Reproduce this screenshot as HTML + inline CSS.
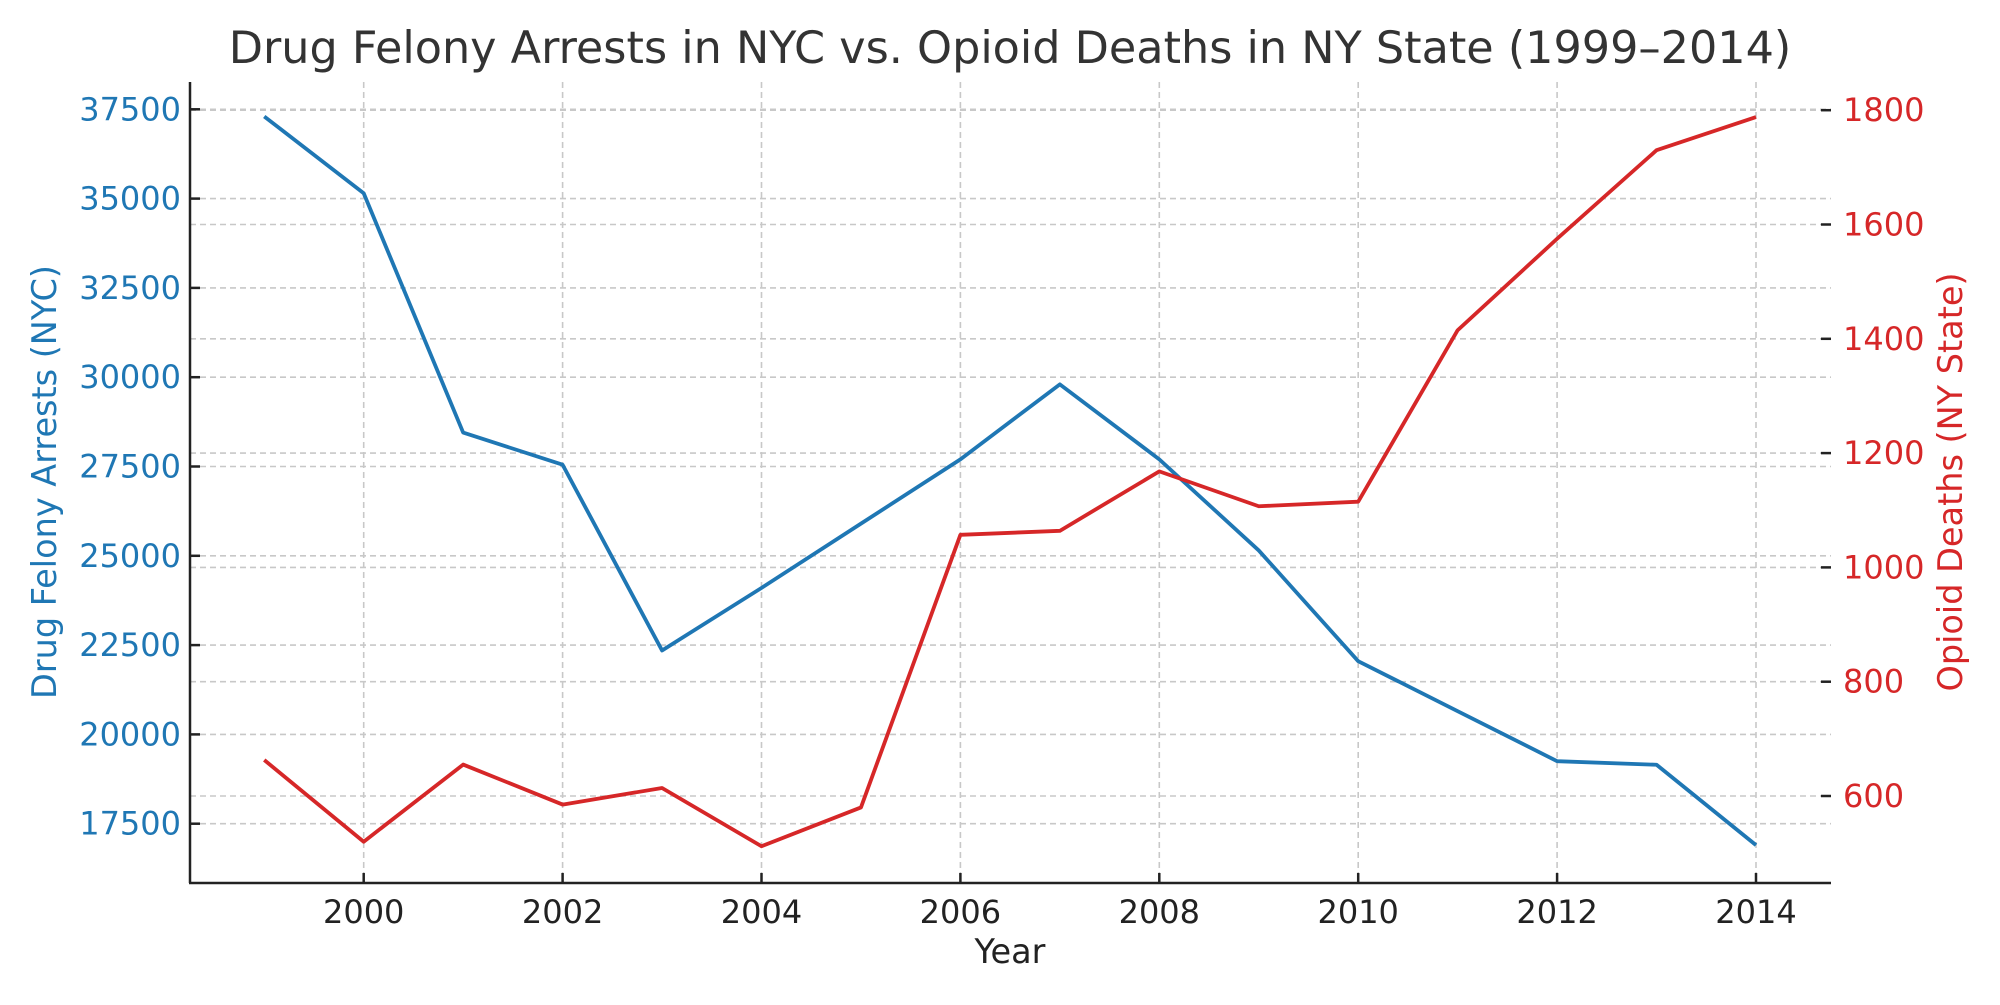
<!DOCTYPE html>
<html><head><meta charset="utf-8"><style>body{margin:0;background:#fff}svg text{font-family:"DejaVu Sans","Liberation Sans",sans-serif}</style></head>
<body>
<svg id="chart" width="2000" height="1000" viewBox="0 0 2000 1000" xmlns="http://www.w3.org/2000/svg">
<rect width="2000" height="1000" fill="#fff"/>
<g id="grid"></g><g id="lines"></g><g id="axes"></g>
<text x="1010" y="63" font-size="44.5" text-anchor="middle" fill="#333">Drug Felony Arrests in NYC vs. Opioid Deaths in NY State (1999–2014)</text>
<text x="1010" y="963" font-size="33.5" text-anchor="middle" fill="#222">Year</text>
<text transform="translate(56,482) rotate(-90)" font-size="33.5" text-anchor="middle" fill="#1f77b4">Drug Felony Arrests (NYC)</text>
<text transform="translate(1962,482) rotate(-90)" font-size="33.5" text-anchor="middle" fill="#d62728">Opioid Deaths (NY State)</text>
</svg>
<script>
const years=[1999,2000,2001,2002,2003,2004,2005,2006,2007,2008,2009,2010,2011,2012,2013,2014];
const arrests=[37300,35150,28450,27550,22350,24100,25900,27700,29800,27700,25150,22050,20650,19250,19150,16900];
const deaths=[663,520,655,585,614,512,580,1057,1064,1168,1107,1115,1415,1575,1730,1788];
const xTicks=[2000,2002,2004,2006,2008,2010,2012,2014];
const yLeftTicks=[17500,20000,22500,25000,27500,30000,32500,35000,37500];
const yRightTicks=[600,800,1000,1200,1400,1600,1800];
const NS='http://www.w3.org/2000/svg';
const L=190,R=1831,T=82,B=883;
const x=v=>363.7+(v-2000)*99.45;
const yl=v=>823.7-(v-17500)/2500*89.3;
const yr=v=>796-(v-600)/200*114.3;
function mk(tag,attrs,parent,txt){const e=document.createElementNS(NS,tag);for(const k in attrs)e.setAttribute(k,attrs[k]);if(txt!==undefined)e.textContent=txt;document.getElementById(parent).appendChild(e);return e;}
const gd={stroke:'#c8c8c8','stroke-width':1.6,'stroke-dasharray':'6,4'};
xTicks.forEach(t=>{const g=mk('line',Object.assign({x1:x(t),x2:x(t),y1:T,y2:B},gd),'grid');


const tk=mk('line',{x1:x(t),x2:x(t),y1:B,y2:B-10,stroke:'#222','stroke-width':2.5},'axes');


const lb=mk('text',{x:x(t),y:B+40,'font-size':32,'text-anchor':'middle',fill:'#222'},'axes',t);

});
yLeftTicks.forEach(t=>{const g=mk('line',Object.assign({x1:L,x2:R,y1:yl(t),y2:yl(t)},gd),'grid');


const tk=mk('line',{x1:L,x2:L+10,y1:yl(t),y2:yl(t),stroke:'#222','stroke-width':2.5},'axes');


const lb=mk('text',{x:181,y:yl(t)+11,'font-size':32,'text-anchor':'end',fill:'#1f77b4'},'axes',t);

});
yRightTicks.forEach(t=>{const g=mk('line',Object.assign({x1:L,x2:R,y1:yr(t),y2:yr(t)},gd),'grid');


const tk=mk('line',{x1:R-10,x2:R,y1:yr(t),y2:yr(t),stroke:'#222','stroke-width':2.5},'axes');


const lb=mk('text',{x:1843,y:yr(t)+11,'font-size':32,'text-anchor':'start',fill:'#d62728'},'axes',t);

});
const a1=mk('polyline',{points:years.map((y,i)=>x(y)+','+yl(arrests[i])).join(' '),fill:'none',stroke:'#1f77b4','stroke-width':3.8,'stroke-linejoin':'round'},'lines');


const a2=mk('polyline',{points:years.map((y,i)=>x(y)+','+yr(deaths[i])).join(' '),fill:'none',stroke:'#d62728','stroke-width':3.8,'stroke-linejoin':'round'},'lines');


const ax1=mk('line',{x1:L,x2:L,y1:T,y2:B,stroke:'#222','stroke-width':2.5},'axes');


const ax2=mk('line',{x1:L-1,x2:R,y1:B,y2:B,stroke:'#222','stroke-width':2.5},'axes');


</script>
</body></html>
